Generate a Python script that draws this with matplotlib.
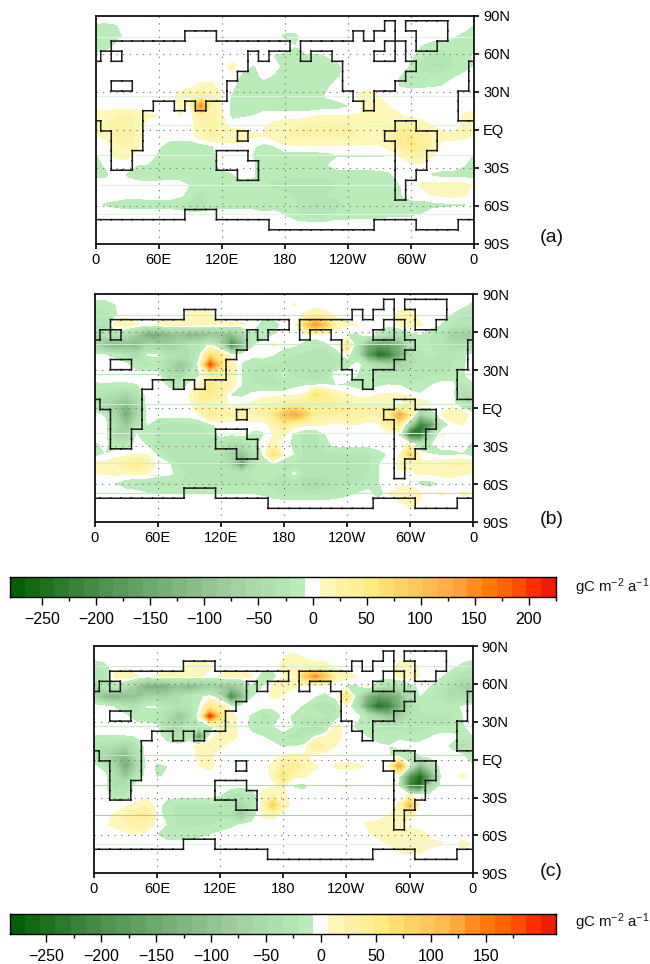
import numpy as np
import matplotlib
matplotlib.use("Agg")
import matplotlib.pyplot as plt
from matplotlib.colors import ListedColormap, BoundaryNorm

plt.rcParams['font.family'] = ['Liberation Sans', 'DejaVu Sans']
plt.rcParams['mathtext.default'] = 'regular'

LONS = np.arange(0, 360, 10)
LATS = [82, 74, 66, 58, 50, 42, 34.5, 26.5, 18.5, 11, 3, -5, -13, -20.5, -28, -36, -44, -51.5, -59, -67, -75]

GREENS = ['#045f04','#116a11','#1e721e','#2b7a2b','#378337','#438b43','#4e934e','#589a58','#62a162','#6ca96c',
          '#76b076','#80b680','#8abd8a','#93c493','#9dcb9d','#a5d2a5','#aad9aa','#afdfaf','#b4e5b4','#b9ecb9']
REDS_A = ['#fff7b8','#fff2a8','#fff098','#ffec80','#ffdf70','#ffd266','#ffc75c','#ffbb52','#ffae48','#ffa03a',
          '#ff8c1e','#ff7a00','#ff6400','#ff4d00','#ff2d00','#ee1c00']
REDS_C = ['#fff7b8','#fff2a8','#fff098','#ffec80','#ffdf70','#ffd266','#ffc75c','#ffbb52','#ffa83e',
          '#ff8c1e','#ff7a00','#ff6400','#ff4d00','#ff2d00','#ee1c00']
STEP_AB = 13.66
STEP_C = 13.8

FIELD_A = {
 82: {0:-9,10:-10,20:-8},
 74: {0:-12,10:-24,20:-12,30:-3,170:-3,180:-10,190:-10,200:-3,340:-5,350:-12},
 66: {0:-12,10:-14,20:-4,190:-7,310:-8,320:-14,330:-14,340:-15,350:-15},
 58: {0:-5,170:-8,180:-12,190:-12,200:-10,210:-10,220:-7,300:-5,310:-14,320:-32,330:-32,340:-18,350:-14},
 50: {0:-7,130:12,150:-9,180:-14,190:-14,200:-13,210:-13,220:-13,230:-12,300:-10,310:-28,320:-35,330:-35,340:-24,350:-12},
 42: {130:3,140:-12,150:-14,160:-3,170:-10,180:-14,190:-14,200:-14,210:-14,220:-14,230:-10,290:-8,300:-14,310:-15,320:-14,330:-12,340:-9,350:-4},
 34.5: {90:4,100:10,110:12,130:-4,140:-15,150:-15,160:-15,170:-15,180:-15,190:-15,200:-15,210:-15,220:-10,290:-8,300:-10,310:-9,320:-8,330:-7},
 26.5: {80:12,90:15,100:40,110:20,120:5,130:-9,140:-15,150:-15,160:-15,170:-15,180:-15,190:-15,200:-15,210:-14,220:-5,250:9,260:18,270:6},
 18.5: {0:2,80:8,90:6,100:150,110:35,120:5,130:-12,140:-16,150:-16,160:-16,170:-16,180:-16,190:-16,200:-16,210:-16,220:-16,230:-15,240:-8,260:14,270:14,280:6},
 11: {0:12,10:15,20:20,30:24,40:18,50:9,60:7,80:7,100:30,110:25,120:9,130:-12,140:-9,150:-7,210:7,220:8,230:8,240:8,250:8,260:9,270:14,280:12,290:8,350:8},
 3: {0:7,10:20,20:26,30:28,40:16,100:20,110:28,120:14,130:2,140:3,150:2,160:6,170:12,180:16,190:20,200:24,210:26,220:26,230:24,240:22,250:18,260:15,270:15,280:20,290:35,300:35,310:18,320:7,350:8},
 -5: {0:6,10:10,20:24,30:28,40:18,100:16,110:26,120:20,130:18,140:16,150:9,160:7,170:16,180:20,190:22,200:22,210:22,220:22,230:22,240:22,250:20,260:20,270:18,280:26,290:45,300:50,310:35,320:20,330:12,340:12,350:10},
 -13: {20:18,30:22,40:9,60:-5,70:-14,80:-15,90:-15,100:-15,110:-9,150:-5,160:-12,170:-8,180:5,190:5,200:5,210:5,220:5,230:5,240:5,250:5,260:5,270:5,280:14,290:30,300:50,310:45,320:20},
 -20.5: {0:-9,20:10,30:14,60:-10,70:-15,80:-15,90:-15,100:-15,110:-12,150:-8,160:-15,170:-15,180:-15,190:-15,200:-15,210:-15,220:-13,230:-8,240:-8,250:-8,260:-8,270:-9,280:-7,290:8,300:26,310:26,320:8},
 -28: {0:-12,10:-5,30:-3,40:-7,50:-8,60:-12,70:-15,80:-15,90:-15,100:-15,110:-15,150:-5,160:-16,170:-18,180:-18,190:-18,200:-18,210:-18,220:-8,310:5,350:-6},
 -36: {0:-14,10:-10,30:-9,40:-15,50:-18,60:-16,70:-15,80:-15,90:-15,100:-15,110:-15,120:-15,130:-9,150:-5,160:-16,170:-18,180:-18,190:-18,200:-18,210:-18,220:-18,230:-16,240:-15,250:-15,260:-15,270:-14,280:-10,320:-9,330:-13,340:-13,350:-13},
 -44: {0:5,90:-8,100:-18,110:-18,120:-18,130:-18,140:-16,150:-14,160:-20,170:-24,180:-24,190:-30,200:-35,210:-30,220:-30,230:-22,240:-18,250:-16,260:-15,270:-15,280:-15,290:-7,310:9,320:14,330:15,340:16,350:14},
 -51.5: {30:-3,40:-3,80:-4,90:-12,100:-28,110:-16,120:-12,130:-10,140:-10,150:-12,160:-15,170:-16,180:-18,190:-24,200:-28,210:-28,220:-20,230:-16,240:-15,250:-15,260:-15,270:-15,280:-15,290:-8,320:8,330:10,340:12,350:10},
 -59: {0:-5,10:-9,20:-12,30:-14,40:-14,50:-14,60:-14,70:-14,80:-18,90:-30,100:-30,110:-16,120:-14,130:-15,140:-15,150:-15,160:-24,170:-18,180:-18,190:-18,200:-32,210:-38,220:-32,230:-28,240:-18,250:-15,260:-15,270:-15,280:-15,290:-14,300:-13,310:-12,320:-12,330:-10,340:-9,350:-9},
 -67: {180:-8,190:-18,200:-26,210:-28,220:-26,230:-16,240:-15,250:-14,260:-13,270:-12,280:-10,290:-10,300:-9,310:-7},
 -75: {},
}

FIELD_B = {
 82: {0:-14,10:-14,20:-7,190:8},
 74: {0:-30,10:-30,20:-9,90:10,100:12,110:9,200:9,210:18,220:12,230:3,290:12,300:12,340:-8,350:-28},
 66: {0:-30,10:-35,20:14,30:20,40:8,60:9,70:12,80:10,90:16,100:9,110:8,120:9,130:9,140:9,150:5,160:-18,170:-18,200:80,210:140,220:90,230:18,240:10,250:7,290:10,300:18,310:9,330:-8,340:-22,350:-28},
 58: {0:-65,10:-30,20:-28,30:-45,40:-80,50:-135,60:-145,70:-110,80:-95,90:-125,100:-110,110:-95,120:-95,130:-110,140:-65,150:-14,160:-18,170:-8,230:-5,240:-8,250:-12,260:9,270:-18,280:-45,290:-45,300:-18,310:-8,320:-22,330:-35,340:-70,350:-80},
 50: {0:-60,10:-110,20:-125,30:-110,40:-110,50:-65,60:-70,70:-80,80:-65,90:-30,100:-28,120:-45,130:-215,140:-125,150:-9,170:10,190:-5,200:-12,210:-18,220:-10,240:50,250:-28,260:-135,270:-170,280:-160,290:-125,300:-45,310:-12,320:-22,330:-30,340:-45,350:-45},
 42: {10:-7,20:-12,30:-30,40:-45,50:-6,60:-4,70:-30,80:-35,90:-35,100:-9,110:70,120:40,150:-3,170:-8,180:-18,190:-22,200:-24,210:-35,220:-35,230:-18,250:-35,260:-170,270:-250,280:-225,290:-145,300:-45,310:-24,320:-18,330:-22,340:-30,350:-12},
 34.5: {30:-4,40:-18,50:-24,60:-22,70:-45,80:-95,90:-65,100:7,110:190,120:70,130:20,140:-9,150:-18,160:-22,170:-22,180:-22,190:-22,200:-24,210:-30,220:-30,230:-30,240:-18,260:-22,270:-45,280:-65,290:-65,300:-45,310:-30,320:-28,330:-24,340:-22,350:-10},
 26.5: {70:-45,80:-65,90:-18,100:-9,110:25,120:40,130:20,140:-7,150:-22,160:-22,170:-22,180:-4,190:-24,200:-35,210:-45,220:-30,230:9,250:-7,260:-12,270:-28,280:-30,290:-28,300:-24,310:-24,320:-22,330:-22,340:-18,350:-9},
 18.5: {0:-10,10:-9,20:-10,30:-10,40:-8,70:-10,80:-22,90:-5,100:14,110:60,120:30,130:18,140:-8,150:-18,160:-22,170:-22,180:-22,190:-12,200:-9,210:-8,220:-7,230:-8,240:-9,250:-12,260:-18,270:-10,280:-7,290:-8,300:-18,310:-18,320:-8,350:-30},
 11: {0:-30,10:-35,20:-45,30:-65,40:-35,90:7,100:35,110:45,120:22,130:-9,140:-12,150:-4,190:3,200:9,210:65,220:35,230:18,240:9,270:7,280:9,290:9,310:-6,350:-45},
 3: {0:-45,10:-65,20:-80,30:-110,40:-65,100:35,110:18,120:18,130:3,140:6,150:10,160:22,170:25,180:35,190:38,200:35,210:38,220:45,230:38,240:28,250:22,260:22,270:22,280:18,290:-10,300:35,310:18,320:9,350:-22},
 -5: {10:-12,20:-65,30:-145,40:-65,100:9,110:45,120:28,130:22,140:25,150:18,160:24,170:50,180:100,190:130,200:90,210:35,220:35,230:35,240:35,250:35,260:22,270:22,280:45,290:130,300:45,310:-80,320:-35,330:9,340:22,350:18},
 -13: {20:-45,30:-95,40:-30,50:-7,60:-22,70:-26,80:-26,90:-24,100:-22,110:-12,170:14,180:45,190:18,200:10,210:9,220:7,240:7,250:7,270:5,280:35,290:45,300:-65,310:-220,320:-170,330:-30,350:7},
 -20.5: {20:-65,30:-65,40:-7,50:-12,60:-24,70:-30,80:-30,90:-35,100:-28,110:-22,130:-6,150:-12,160:-10,170:6,180:9,190:-12,200:-26,210:-26,220:-7,290:-9,300:-250,310:-250,320:-65,330:9},
 -28: {0:-10,10:-3,20:-22,30:-24,50:-10,60:-24,70:-28,80:-28,90:-28,100:-28,110:-30,120:-30,130:-45,140:-45,150:-18,170:14,190:-12,200:-24,210:-24,220:-12,300:9,310:-30,320:-8},
 -36: {0:-18,10:-7,40:7,50:5,60:-10,70:-22,80:-28,90:-28,100:-28,110:-28,120:-28,130:-65,140:-100,150:-45,160:-6,170:65,180:7,190:-8,200:-24,210:-24,220:-24,230:-24,240:-24,250:-24,260:-24,270:-12,280:-6,290:4,300:85,320:-7,330:-12,340:-12,350:-8},
 -44: {0:18,10:12,20:18,30:35,40:50,50:28,70:-4,80:-24,90:-30,100:-28,110:-28,120:-28,130:-65,140:-170,150:-45,160:-12,170:-8,180:-24,190:-24,200:-24,210:-24,220:-24,230:-24,240:-24,250:-22,260:-22,270:-8,290:10,300:10,310:12,320:12,330:18,340:22,350:22},
 -51.5: {0:6,10:8,20:10,30:10,40:12,50:9,70:-3,80:-12,90:-24,100:-24,110:-24,120:-24,130:-24,140:-24,150:-18,160:-8,170:-12,180:-22,190:-3,200:-24,210:-24,220:-24,230:-24,240:-22,250:-22,260:-22,270:-8,290:5,300:5,310:8,320:9,330:12,340:18,350:9},
 -59: {10:-3,20:-8,30:-18,40:-24,50:-24,60:-24,70:-24,80:-24,90:-24,100:-24,110:-28,120:-24,130:-24,140:-24,150:-22,160:-22,170:-24,180:-24,190:-28,200:-45,210:-55,220:-45,230:-28,240:-24,250:-22,260:-18,270:-8,310:-12,320:-12,330:-5,340:-8,350:-4},
 -67: {0:7,50:-8,60:-8,70:-8,80:-8,90:-8,100:-8,110:-8,120:-8,130:-8,140:-8,150:-8,160:-10,170:-18,180:-24,190:-26,200:-28,210:-28,220:-24,230:-18,240:-12,250:-7,270:-22,280:7,290:18,300:18,310:9,330:10,350:10},
 -75: {290:5,300:9,310:6},
}

FIELD_C = {
 82: {180:6,190:10,200:5},
 74: {0:-22,10:-12,90:9,100:12,110:9,180:10,190:14,200:12,210:12,220:12,230:3,290:12,300:18,310:3,340:-3,350:-12},
 66: {0:-28,10:-24,20:12,30:22,40:9,60:9,70:12,80:10,90:12,100:8,110:3,120:8,130:18,140:12,150:9,160:-18,170:-18,180:7,190:6,200:90,210:140,220:100,230:24,240:12,250:7,290:12,300:18,310:6,330:-7,340:-22,350:-30},
 58: {0:-65,10:-24,20:-18,30:-45,40:-80,50:-135,60:-135,70:-125,80:-95,90:-125,100:-95,110:-80,120:-80,130:-95,140:-65,150:-12,160:-8,170:9,180:10,190:9,230:-7,240:-10,250:-12,260:9,270:-24,280:-45,290:-45,300:-22,320:-8,330:-18,340:-45,350:-65},
 50: {0:-60,10:-110,20:-125,30:-110,40:-95,50:-65,60:-65,70:-65,80:-45,90:-24,100:-12,120:-30,130:-215,140:-125,150:-9,170:10,180:6,210:-7,220:-12,230:-3,240:60,250:-28,260:-125,270:-170,280:-160,290:-125,300:-45,310:-8,320:-18,330:-28,340:-45,350:-45},
 42: {0:5,20:-9,30:-24,40:-35,50:-6,60:-4,70:-28,80:-35,90:-30,100:-8,110:45,120:30,160:-4,170:-4,190:-3,200:-10,210:-30,220:-35,230:-22,240:7,250:-35,260:-170,270:-250,280:-225,290:-145,300:-45,310:-18,320:-12,330:-12,340:-18,350:-5},
 34.5: {30:-4,40:-18,50:-22,60:-26,70:-45,80:-95,90:-60,100:7,110:190,120:70,130:14,150:-10,160:-24,170:-22,180:-4,190:-9,200:-22,210:-8,220:-22,230:-22,260:-26,270:-65,280:-95,290:-80,300:-35,310:-26,320:-22,330:-22,340:-22,350:-8},
 26.5: {60:-3,70:-60,80:-65,90:-22,100:-22,110:-22,120:18,130:14,150:-12,160:-18,170:-9,180:9,190:-9,200:-35,210:-45,220:-35,230:14,250:-12,260:-12,270:-30,280:-30,290:-28,300:-26,310:-24,320:-24,330:-24,340:-22,350:-9},
 18.5: {0:-8,10:-8,20:-8,30:-8,40:-7,70:-22,80:-45,90:-22,100:-190,110:-7,120:22,130:18,150:-4,160:-7,170:-12,180:-22,190:-26,200:-22,210:-8,220:7,230:18,260:-8,270:-18,280:-8,290:-10,300:-18,310:-18,320:-8,350:-12},
 11: {0:-30,10:-35,20:-45,30:-65,40:-30,90:4,100:9,110:22,120:9,170:-4,180:-9,190:-9,200:-5,210:45,220:22,230:7,270:-3,280:-7,290:-3,340:-12,350:-45},
 3: {0:-45,10:-65,20:-95,30:-120,40:-45,100:10,110:10,180:7,190:12,200:9,210:-6,280:-5,290:-18,300:-24,310:-8},
 -5: {0:-3,10:-22,20:-65,30:-145,40:-65,60:-10,70:-7,100:7,110:12,170:12,180:35,190:50,200:22,210:10,230:9,240:10,250:9,260:5,280:9,290:130,310:-125,320:-45},
 -13: {20:-45,30:-95,40:-28,60:-8,70:-6,170:10,180:65,190:12,200:9,290:-7,300:-180,310:-250,320:-145,330:-8,340:3,350:10},
 -20.5: {20:-45,30:-30,170:4,180:9,190:-10,200:-12,290:-8,300:-225,310:-270,320:-65,330:-3},
 -28: {20:-22,30:-22,120:-7,130:-24,140:-30,150:-22,160:14,170:22,180:9,290:-3,300:10,310:-4},
 -36: {30:3,40:10,50:18,70:-18,80:-24,90:-24,100:-24,110:-24,120:-24,130:-28,140:-65,150:-28,160:14,170:90,180:18,290:9,300:110,310:3},
 -44: {20:10,30:22,40:38,50:38,60:3,70:-18,80:-22,90:-22,100:-22,110:-22,120:-22,130:-30,140:-95,150:-22,160:9,170:12,280:7,290:10,300:12},
 -51.5: {10:5,20:10,30:18,40:30,50:24,70:-8,80:-22,90:-22,100:-22,110:-22,120:-18,130:-12,140:-6,150:-2,260:9,270:12,280:12,290:9},
 -59: {30:4,40:7,60:-8,70:-18,80:-18,90:-18,100:-12,110:-8,120:-3,260:4,270:12,280:12,290:18,300:18,310:12,320:4,330:3},
 -67: {0:6,280:7,290:18,300:22,310:18,320:10,330:8,350:12},
 -75: {290:3,300:6,310:6,350:3},
}

# land mask of the coarse model grid: lon-centre ranges in each latitude band
LAT_EDGES = [90, 86, 78, 70, 62, 54, 46, 38.5, 30.5, 22.5, 15, 7, -1, -9, -16.5, -24.5, -32, -40, -47.5, -55.5, -63, -71, -79, -90]
LAND = [
 [], [(280,280),(300,330)], [(90,110),(250,250),(270,280),(310,330)],
 [(20,180),(200,270),(290,290),(310,320)],
 [(10,10),(30,140),(160,160),(200,200),(230,260),(290,290)],
 [(0,140),(240,300)], [(0,130),(240,290)], [(0,10),(40,120),(240,280)],
 [(0,120),(250,260),(350,350)], [(0,50),(80,80),(100,100),(260,260),(350,350)],
 [(0,40),(350,350)], [(10,40),(290,300)], [(20,40),(140,140),(280,320)],
 [(20,40),(290,320)], [(20,30),(120,140),(290,310)], [(20,30),(120,150),(290,310)],
 [(140,150),(290,300)], [(290,290)], [(290,290)], [], [(90,110)],
 [(0,160),(270,300),(350,350)], [(0,350)],
]

FAINT_A = {73.5:'#e4f5e4', 27:'#dff3df', 3.5:'#e4f5e4', -20:'#dff3df', -44:'#e6f6e6', -66.5:'#e4f5e4'}
FAINT_B = {74:'#c8ebc8', 50.5:'#c8ebc8', 27:'#b9e8b9', 3.5:'#cdeecd', -19.5:'#dff3df', -43:'#d5efd5', -67:'#b9e8b9'}
FAINT_C = {74:'#d5f0d5', 27:'#cdeecd', 3.5:'#bde9bd', -19.7:'#a6e0a6', -43.5:'#9cd89c', -66.5:'#e6f6e6'}

XTICKS = [0, 60, 120, 180, 240, 300, 360]
XLABELS = ['0', '60E', '120E', '180', '120W', '60W', '0']
YTICKS = [90, 60, 30, 0, -30, -60, -90]
YLABELS = ['90N', '60N', '30N', 'EQ', '30S', '60S', '90S']
CB_TICKS_AB = [-250, -200, -150, -100, -50, 0, 50, 100, 150, 200]
CB_TICKS_C = [-250, -200, -150, -100, -50, 0, 50, 100, 150]
UNITS = 'gC m$^{-2}$ a$^{-1}$'

W, H = 650, 964
fig = plt.figure(figsize=(W/100, H/100), dpi=100)

def axpx(l, r, t, b):
    return fig.add_axes([l/W, 1-b/H, (r-l)/W, (b-t)/H])

def grid_of(field):
    Z = np.zeros((len(LATS), 36))
    for i, la in enumerate(LATS):
        for lo, v in field[la].items():
            Z[i, lo//10] = v
    Z = np.hstack([Z, Z[:, :1]])
    Z = np.vstack([np.zeros((1, 37)), Z, np.zeros((1, 37))])
    return Z

def coast_lines():
    m = np.zeros((len(LAND), 36), bool)
    for i, rs in enumerate(LAND):
        for a, b in rs:
            m[i, a//10:b//10+1] = True
    xs, ys = [], []
    for i in range(m.shape[0]):
        for j in range(36):
            lo = j*10
            if m[i, j] != m[i, (j+1) % 36]:
                for sh in (0, 360):
                    xs += [lo+5+sh, lo+5+sh, np.nan]
                    ys += [LAT_EDGES[i], LAT_EDGES[i+1], np.nan]
            if i+1 < m.shape[0] and m[i, j] != m[i+1, j]:
                for sh in (0, 360):
                    xs += [lo-5+sh, lo+5+sh, np.nan]
                    ys += [LAT_EDGES[i+1], LAT_EDGES[i+1], np.nan]
    return xs, ys

CX, CY = coast_lines()

def levels(step, ng, nr):
    return np.array([-step/2 - step*k for k in range(ng, -1, -1)] + [step/2 + step*k for k in range(nr+1)])

def panel(box, field, lv, cols, faint, label, laby):
    ax = axpx(*box)
    Z = grid_of(field)
    X = np.arange(0, 370, 10)
    Y = [90] + LATS + [-90]
    ax.contourf(X, Y, Z, levels=lv, colors=cols)
    for la, c in faint.items():
        ax.axhline(la, color=c, lw=0.8, zorder=1.2)
    ax.plot(CX, CY, color='#1c1c1c', lw=1.1, zorder=3, solid_capstyle='projecting')
    ax.set_xlim(0, 360); ax.set_ylim(-90, 90)
    ax.set_xticks(XTICKS, XLABELS); ax.set_yticks(YTICKS, YLABELS)
    ax.grid(True, color='#666666', ls=(0, (1, 5)), lw=0.8)
    ax.set_axisbelow('line')
    ax.tick_params(axis='y', left=False, right=True, labelleft=False, labelright=True, length=3.5, width=1.2, pad=3, labelsize=10.5)
    ax.tick_params(axis='x', length=3.5, width=1.2, pad=3, labelsize=10.5)
    for s in ax.spines.values():
        s.set_linewidth(1.3); s.set_color('#111111')
    fig.text(540/W, 1-laby/H, label, fontsize=14, ha='left', va='center', color='#111111')

def colorbar(l, r, t, b, lv, cols, ticks, uy):
    cax = axpx(l, r, t, b)
    cmap = ListedColormap(cols)
    norm = BoundaryNorm(lv, cmap.N)
    mid = (lv[:-1]+lv[1:])/2
    cax.pcolormesh(lv, [0, 1], mid[None, :], cmap=cmap, norm=norm)
    cax.set_yticks([])
    cax.set_xlim(lv[0], lv[-1])
    cax.set_xticks(ticks, [str(t).replace('-', '\u2212') for t in ticks])
    minor = [t+25 for t in ticks if lv[0] < t+25 < lv[-1]]
    cax.set_xticks(minor, minor=True)
    cax.tick_params(axis='x', which='major', length=6, width=1, pad=5, labelsize=11.5)
    cax.tick_params(axis='x', which='minor', length=3, width=1)
    for s in cax.spines.values():
        s.set_linewidth(1.0)
    fig.text(575/W, 1-uy/H, UNITS, fontsize=10.8, ha='left', va='center', color='#111111')

LV_AB = levels(STEP_AB, 20, 16)
LV_C = levels(STEP_C, 20, 15)
COLS_AB = GREENS + ['#ffffff'] + REDS_A
COLS_C = GREENS + ['#ffffff'] + REDS_C

panel((95.5, 474, 15.7, 243.7), FIELD_A, LV_AB, COLS_AB, FAINT_A, '(a)', 237)
panel((94.7, 473, 294.3, 522.3), FIELD_B, LV_AB, COLS_AB, FAINT_B, '(b)', 519)
panel((94, 472.7, 646, 873.3), FIELD_C, LV_C, COLS_C, FAINT_C, '(c)', 871)
colorbar(10, 556, 577, 597, LV_AB, COLS_AB, CB_TICKS_AB, 587)
colorbar(10, 556, 914, 934, LV_C, COLS_C, CB_TICKS_C, 922)

fig.savefig('out.png', dpi=100)
